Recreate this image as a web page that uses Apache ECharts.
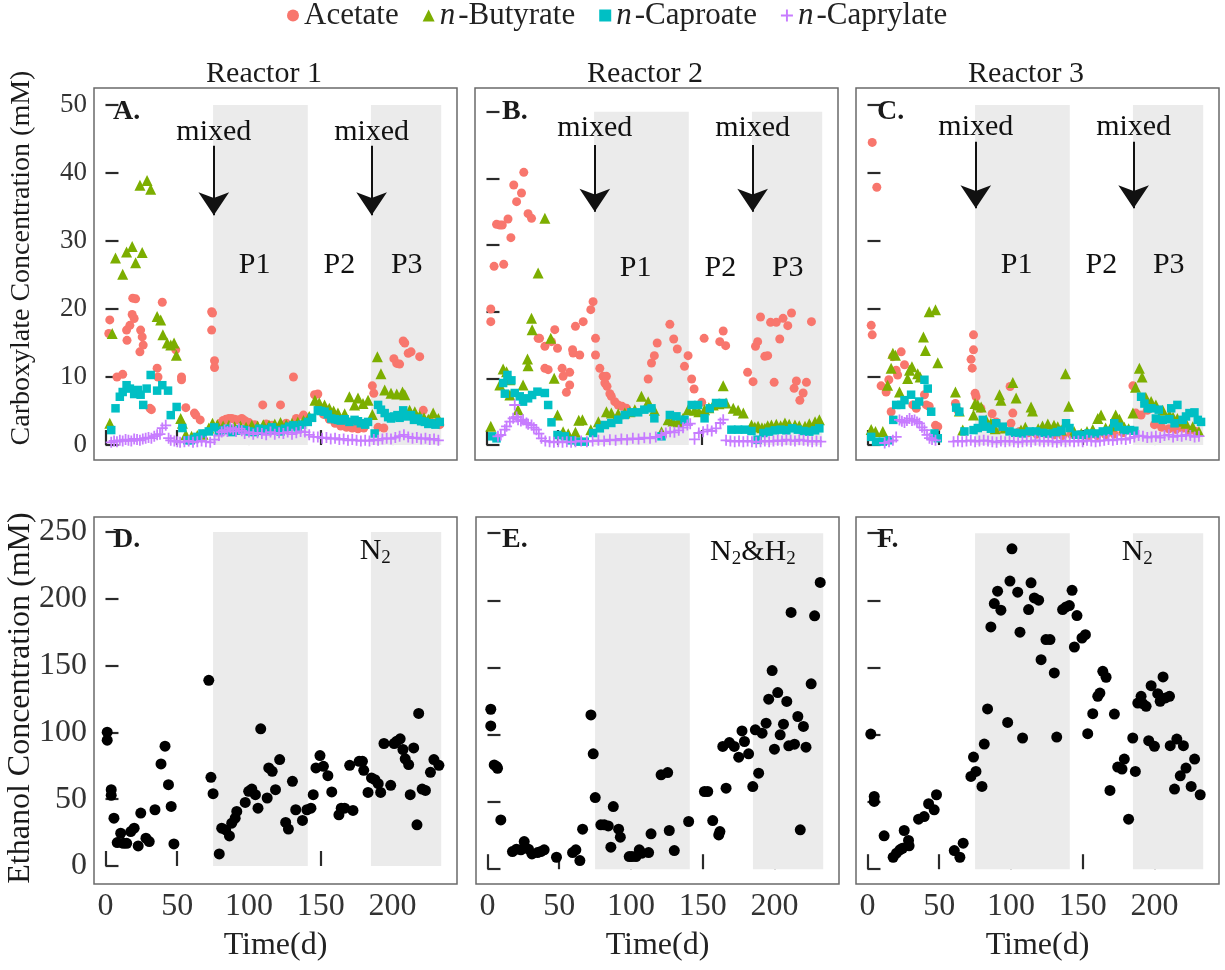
<!DOCTYPE html>
<html><head><meta charset="utf-8">
<script src="https://cdn.jsdelivr.net/npm/echarts@6/dist/echarts.min.js"></script>
<style>html,body{margin:0;padding:0;background:#fff}#c{width:1225px;height:970px}</style>
</head><body><div id="c"></div>
<script>
// ---------------- DATA ----------------
const seriesNames = ['Acetate', 'n-Butyrate', 'n-Caproate', 'n-Caprylate'];
const reactorTitles = ['Reactor 1', 'Reactor 2', 'Reactor 3'];
const topLetters = ['A.', 'B.', 'C.'];
const bottomLetters = ['D.', 'E.', 'F.'];
const gasLabels = ['N2', 'N2&H2', 'N2'];
const xTicks = [0, 50, 100, 150, 200];
const yTicksTop = [0, 10, 20, 30, 40, 50];
const yTicksBottom = [0, 50, 100, 150, 200, 250];
const phaseNames = ['P1', 'P2', 'P3'];
const phaseLabelDays = [104, 163, 210];
const shadeP1 = [75, 141];
const shadeP3 = [185, 234];
const mixedDays = [75.5, 185.5];
const mixedTextY = [46, 47.5, 46.8];
const arrowTopY = [44, 45, 44.6];
const arrowTipY = [33.8, 35, 34.8];

// Reactor 1 (A) [day, mM]
const r1Acetate = [[2.3,16.4],[3,18.4],[8,10],[12,10.4],[14.7,16.9],[15,15.4],[17,17.6],[18.6,19.2],[19,21.6],[20,18.6],[21,21.5],[24,13.7],[24.5,16.9],[25.6,15.9],[26.3,14.7],[31,5.4],[32,5.2],[36,11.3],[36.6,10],[39.6,21],[49,14],[53,10],[53,9.6],[56,5.5],[62,4.7],[63,4.4],[66,3.7],[74,19.6],[74.6,19.4],[74,16.9],[76,12.4],[76,11.4],[80,3.2],[82,3.6],[84,3.8],[86,3.9],[88,3.9],[90,3.8],[92,3.7],[95,3.9],[97,3.6],[100,3.3],[104,3.0],[109.6,5.9],[112,3.1],[116,2.9],[122,5.9],[126,3.2],[131,10],[133,3.9],[138,4.4],[145.7,7.4],[148,7.5],[152,4.5],[156,3.8],[160,3.2],[164,2.8],[168,2.6],[172,2.5],[176,2.4],[180,2.5],[186,8.7],[187,7.6],[190,2.6],[194,2.5],[201,12.7],[203,12],[205,11.9],[207.5,15.3],[208.6,15],[211,13.5],[213,13.7],[219,13],[221.5,5.1],[226,3.5],[230,3.2],[233,3]];
const r1Butyrate = [[3,3.2],[4.7,16.4],[7,27.5],[12,25.1],[14.7,28.4],[18.6,29.2],[21,26.8],[24,38.2],[25.6,28.3],[29,38.9],[31.5,37.6],[36,18.9],[38.5,18.4],[40,16.2],[43,15],[45.5,14.7],[47.8,15],[49.4,13.2],[52.4,3.9],[53.6,3.2],[56,1.5],[60,1.3],[64,1.4],[68,1.6],[72,2.5],[74.6,3.2],[78,3.0],[82,2.8],[86,2.9],[90,2.7],[94,2.8],[98,2.6],[102,2.9],[106,2.8],[110,3.0],[114,2.9],[118,3.1],[122,3.3],[126,3.0],[130,3.2],[134,3.4],[138,3.6],[142,4.2],[146,6.6],[149,6.2],[152.7,5.9],[156,5.4],[159,5.0],[162,4.7],[166.7,4.6],[170,7.1],[173.6,5.9],[176,6.9],[179.5,6.1],[183,6.6],[186,4.5],[189.5,13],[192,10.5],[194.6,8.1],[199,7.6],[203,7.5],[207,7.8],[208.6,7.4],[212,5.1],[215.6,4.9],[219,4.3],[222,4.0],[225,3.8],[228.4,4.7],[232,3.9]];
const r1Caproate = [[4,2.2],[7,5.4],[10,7.1],[12,7.8],[14.7,8.8],[17,8.3],[20,7.5],[22.6,8.1],[24.5,7.4],[26.3,5.9],[28.7,8.3],[31.5,10.3],[36,8],[39.6,8.8],[43.6,8],[45.5,4.4],[49.6,5.6],[53.6,2.5],[57,0.7],[59.4,0.7],[62,0.9],[64,1.2],[67.6,1.7],[72,2.0],[75.8,2.6],[79,2.0],[82,2.2],[85,2.4],[88,1.9],[91,2.1],[94,2.3],[97,2.2],[100,2.0],[104,1.9],[107,2.4],[110,2.1],[113,2.3],[116,2.6],[119,2.2],[122,2.0],[125,2.4],[128,2.7],[131,2.9],[134,2.6],[137,3.0],[141,3.4],[144,4.0],[148,5.1],[150,5.0],[152.7,4.9],[155,4.5],[157.4,3.9],[160,3.8],[162,3.7],[164,3.6],[166.7,3.8],[170,3.4],[173.6,3.7],[176,3.5],[178,3.2],[181,3.0],[183,3.4],[187.6,1.7],[190,5.9],[192,5.2],[194.6,4.7],[197,4.1],[199,3.9],[201,4.2],[203.5,4.4],[205,4.0],[207.5,5.1],[210,4.2],[213,4.4],[215,3.7],[218,3.9],[220,3.5],[222.6,3.4],[225,3.1],[227,3.2],[230,3.0],[233,3.4]];
const r1Caprylate = [[4,0.4],[6,0.6],[8,0.5],[10,0.7],[12,0.6],[14,0.8],[16,0.7],[18,0.6],[20,0.9],[22,0.8],[24,0.7],[26,0.9],[28,1.0],[30,1.1],[32,1.0],[34,1.3],[36,1.5],[38,1.6],[39.6,2.5],[42,2.9],[44,1.0],[45.5,0.7],[48,0.6],[50,0.5],[52,0.4],[55,0.5],[58,0.6],[61,0.4],[64,0.5],[67,0.6],[70,0.5],[73,0.4],[76,0.8],[79,1.4],[81,1.9],[83,2.2],[85,2.0],[87,2.5],[89,2.3],[91,2.0],[93,2.4],[95,2.1],[97,1.7],[100,1.9],[103,1.6],[106,1.8],[109,1.7],[112,1.5],[115,1.9],[118,1.6],[121,1.8],[124,1.7],[127,1.9],[130,1.6],[133,1.8],[136,2.0],[139,1.9],[142,1.5],[145,1.2],[148,1.2],[151,1.0],[154,1.1],[157,0.9],[160,1.0],[163,0.8],[166,0.9],[169,0.7],[172,0.8],[175,0.7],[178,0.6],[181,0.7],[184,0.6],[187,0.8],[190,0.7],[193,0.9],[196,1.0],[199,0.9],[202,1.1],[205,1.3],[208,1.5],[211,1.2],[214,1.0],[217,1.1],[220,0.9],[223,1.0],[226,0.8],[229,0.9],[232,0.7]];

// Reactor 2 (B)
const r2Acetate = [[3,20.4],[3,18.5],[5.3,26.8],[7,33.1],[9.3,33],[11,33],[12,27.1],[15,33.9],[17,31.1],[19,39],[21,36.5],[24.4,37.8],[26,40.9],[29,34.7],[31.4,34],[36,16],[37,16],[40.7,14.8],[40.7,11.5],[43,11.3],[45.3,15.5],[47.6,17.3],[49.5,14.5],[52.7,11.5],[53.4,10.3],[55.7,7.9],[58,9],[58,10.9],[60,14.3],[60.4,13.8],[62,17.8],[65,13.5],[67.4,18.5],[72.7,20.3],[74.3,21.5],[76,16],[76,13.5],[79,11.5],[81.3,10.3],[82.5,9.3],[83.6,10.3],[84,8.8],[86,7.7],[87,7.3],[89.4,6.5],[91.8,6],[94.5,5.8],[97.6,5.5],[112.7,9.9],[115,12.3],[117,13.4],[119,15.3],[127.8,18.1],[130.5,15.9],[133,14.4],[138,11.8],[140.5,13.4],[143,9.9],[144.7,8.4],[150,6.4],[151.7,16],[162.6,15.5],[165,17.1],[166.7,14.9],[182,10.9],[185.8,9.5],[187.5,14.8],[189,15.5],[191,19.2],[194,13.3],[196,13.4],[198,18.4],[200.5,9.4],[202,18.4],[204.4,15.9],[206.7,19],[210,17.9],[212.6,19.8],[214.4,8.5],[216,9.6],[218.4,6.7],[220.7,7.8],[223,9.4],[226.5,18.5]];
const r2Butyrate = [[3,2.8],[9.3,9],[11.6,11.4],[14,11],[16.3,9.8],[16.3,7.5],[22,5.3],[25.5,9],[28.6,12.9],[29,11.9],[31.4,19],[31.8,17.3],[36,25.8],[40.7,34],[44.8,16],[47.2,10],[49.5,4.5],[53.4,2],[57,1.7],[62,1.9],[64.3,3.7],[66.9,3.8],[72.7,2.3],[78,3.5],[83.6,5],[87,4.8],[91.8,4.7],[96.4,4.8],[100,5.0],[103.4,5.3],[108,7.3],[112.7,6.5],[117,5.2],[122,2],[126.6,3.8],[130,3.6],[133.6,3.5],[137,4.0],[140.5,5.3],[145,5.2],[148,5.0],[152,5.3],[155,5.6],[158,6],[162,6.2],[165,8.9],[167,6.3],[172,5.5],[175.4,5.2],[179,4.8],[184.7,3],[187,2.7],[189.3,2.8],[192,2.6],[194,2.5],[196,2.9],[198.6,3],[202,3.1],[205,2.9],[208,3.3],[211,3.1],[215,3],[218,2.9],[222,2.8],[225,3.2],[229,3.5],[232,3.8]];
const r2Caproate = [[4,1.3],[7,1],[11.6,9.3],[12.8,7.7],[14.6,10.5],[17.4,9.7],[19.7,7.8],[23.2,7.3],[25.5,6.5],[29,7],[31.8,7.5],[35.5,8],[40.7,7.8],[43,6],[45.3,3.4],[49.5,1.5],[54.6,1.3],[59.2,0.7],[64,0.5],[68.5,0.5],[74.3,1.8],[79,2.5],[82.5,3],[87,3.3],[91.8,3.8],[96.4,4.5],[101,4.9],[105.7,4.9],[110,5.3],[115,5.5],[117,4],[122,1.3],[127.8,4.5],[132.4,4.3],[138,3.8],[143,6],[147.5,6],[152,4],[155.6,5.5],[160,6.3],[165,6.3],[170.7,2.3],[175.4,2.3],[180,2.3],[184.7,2.1],[189,0.8],[193,1.8],[197,2.0],[201,2.2],[205,2.3],[209,2.2],[213,2.5],[217,2.3],[221,2.1],[225,2.0],[229,2.2],[232,2.5]];
const r2Caprylate = [[8,1.3],[10,1.5],[12.8,2.3],[14,2.8],[16.3,3.5],[18.6,4],[19.7,6],[21,4.2],[22,3.8],[24,3.6],[25.5,3.8],[27.9,3.3],[29,3.1],[31.4,3],[33,2.6],[34.8,2.3],[36.5,1.7],[38.3,1],[41,0.6],[44,0.5],[47,0.4],[50,0.5],[53,0.4],[56,0.5],[59,0.4],[62,0.5],[66,0.6],[70,0.5],[74,0.6],[78,0.7],[82,0.6],[86,0.8],[90,0.7],[94,0.9],[98,0.8],[102,1.0],[106,0.9],[110,1.1],[114,1.0],[118,1.2],[122,1.5],[125,1.8],[128,2.0],[131,1.9],[134,2.2],[137,2.6],[140,3.0],[142,3.2],[145,0.85],[148,1.8],[151,2.0],[154,2.3],[157,2.1],[160,2.5],[163,3.3],[165,3.8],[167,0.7],[170,0.6],[173,0.5],[176,0.6],[179,0.5],[182,0.6],[185,0.5],[188,0.4],[191,0.5],[194,0.6],[197,0.5],[200,0.6],[203,0.7],[206,0.6],[209,0.8],[212,0.7],[215,0.6],[218,0.8],[221,0.7],[224,0.6],[227,0.5],[230,0.6],[233,0.5]];

// Reactor 3 (C)
const r3Acetate = [[2.6,17.6],[3.3,16.2],[3.3,44.5],[6.5,37.9],[9.5,8.7],[13,7.8],[14.9,9.6],[16.5,4.9],[17.7,13],[20,11],[21,10.3],[23.5,13.7],[25.8,11.8],[31.6,5.9],[34,5.4],[39.7,7.4],[41,5.9],[43,5.7],[47.4,2.9],[49,2.7],[61.3,6.1],[63,5.1],[72.2,12.6],[73,11.3],[73.9,14],[73.9,16.2],[75,7.6],[75.7,7.1],[79,5.4],[83,3.0],[86.9,4.6],[89.7,3.4],[94,2.4],[99.4,8.6],[100,3.2],[101.3,4.7],[106,2.0],[112,1.8],[118,1.6],[124,1.7],[130,1.5],[136,1.4],[142,1.6],[148,1.5],[154,1.3],[160,1.4],[166,1.5],[172,1.6],[178,1.8],[185,8.7],[187,4.7],[190.7,4.4],[195,5.1],[200,3.0],[205,2.6],[210,2.4],[215,2.3],[220,2.5],[224,2.2],[229,2]];
const r3Butyrate = [[2.6,2.3],[5.6,2],[10.7,2],[14,8.8],[16.5,11.3],[17.7,13.5],[19.5,13.2],[22.3,7.8],[28,9.8],[29.3,11],[31,11.5],[35,10.5],[36.7,10],[39,15.9],[40.4,13.9],[43,19.6],[47.4,19.9],[49,12.1],[61.3,7.8],[64,5],[66.4,2.2],[73.9,4.4],[75,6.1],[76.9,5.9],[79.2,5.6],[82.7,3.7],[86,3.2],[89,2.4],[92,7.4],[93,6.6],[96,2.5],[101.3,9.2],[103.6,6.9],[107,2.2],[110,2.6],[114,5.6],[115,5],[119,2.4],[122,2.8],[125.7,3.1],[130,2.9],[132.6,2.7],[135,2.2],[138,10.5],[140.3,5.7],[144,2.0],[149,1.7],[153,2.0],[157,2.3],[160.5,3.9],[162.8,4.4],[166,2.5],[170,2.8],[173,4.4],[175.6,3.8],[179,2.6],[182,2.4],[185,4.7],[186.8,8.5],[189.5,11.3],[191.4,10],[194,7.0],[197.7,6.4],[201,5.9],[205.8,5.1],[210.5,4.4],[213,4.1],[216,3.9],[219,3.5],[222,3.2],[226.7,2.7],[231,2]];
const r3Caproate = [[2.6,1.2],[6,0.5],[10.7,0.5],[15,0.7],[18,3.7],[20,5.9],[23.5,5.9],[25.8,6.6],[30.4,7.4],[34,5.9],[36,6.4],[39.7,9.6],[42,8.3],[44.4,4.9],[46.7,1.7],[49,1],[61.8,5.5],[64,4.9],[67.6,2],[73.9,2.2],[76.9,2.5],[80.4,3.7],[82.7,2.7],[86,2.4],[89.7,3.2],[94.3,2.7],[99,2],[103,1.8],[108,1.7],[113,2],[117.5,2],[122,1.8],[126.8,1.7],[132,1.9],[135,2.1],[138.4,3.2],[140.8,2.5],[145.4,1.5],[149,1.5],[154,1.7],[159,1.7],[164,2],[168,2.1],[172,3.2],[175,2.7],[179,2.2],[183,2.2],[186,2.1],[190.7,7.1],[193,6.1],[195.4,5.4],[198,5.4],[201,3.9],[203,5.2],[205.8,3.7],[210.4,3.8],[211.7,5.4],[214,3.2],[216,5.9],[219.7,3.7],[222,4.2],[224.4,4.7],[227.9,4.8],[230.2,3.7],[232.5,3.4]];
const r3Caprylate = [[12,0.3],[15,0.5],[17.7,0.7],[20,1.2],[22.3,3.7],[24,3.5],[25.8,3.3],[27.5,3.6],[29.3,3.9],[31,3.6],[32.8,3.7],[34.5,3.4],[36.2,3.2],[38,2.6],[39.7,2.2],[41.5,1.5],[43.2,1],[45,0.8],[47.4,0.7],[60,0.5],[63,0.6],[66,0.5],[69,0.6],[72,0.7],[75,0.5],[78,0.6],[81,0.7],[84,0.6],[87,0.5],[90,0.4],[93,0.6],[96,0.5],[99,0.6],[102,0.5],[105,0.4],[108,0.5],[111,0.6],[114,0.5],[117,0.7],[120,0.6],[123,0.5],[126,0.6],[129,0.5],[132,0.4],[135,0.6],[138,0.5],[141,0.6],[144,0.5],[147,0.6],[150,0.5],[153,0.7],[156,0.6],[159,0.5],[162,0.6],[165,0.7],[168,0.8],[171,0.7],[174,0.8],[177,0.9],[180,0.8],[183,1.0],[186,1.2],[189,1.4],[192,1.3],[195,1.1],[198,1.2],[201,1.3],[204,1.1],[207,1.4],[210,1.5],[213,1.2],[216,1.4],[219,1.3],[222,1.5],[225,1.4],[228,1.2],[231,1.3]];

// Ethanol (D, E, F) [day, mM]
const r1Ethanol = [[1.2,100.2],[1.2,94.2],[4,57.1],[4,52.9],[5.9,35.8],[8.2,17.5],[10.6,24.5],[12.4,17],[14.8,17],[17.6,25.8],[20,28.3],[22.8,15],[24.6,39.6],[28.2,20.8],[30.5,18.3],[34.5,42.1],[38.7,76.4],[41.5,89.7],[43.9,60.9],[45.8,44.6],[47.7,16.5],[72,139],[73.5,66.4],[75,54.1],[79.3,9],[81,28.3],[83.8,27],[86.4,22.5],[88,32],[90.4,35.8],[91.5,40.8],[97.4,47.6],[99.8,55.9],[102,57.6],[104.5,53.4],[106.3,43.3],[108.2,102.7],[112.7,50.9],[113.8,73.4],[116.2,70.9],[118.5,57.1],[121.4,79.7],[125.6,32.6],[127.5,27.6],[130.3,63.4],[132.6,42.1],[137.3,34.1],[140.4,42.1],[143.2,43.3],[144.8,53.4],[146.7,73.4],[149.5,82.7],[151.9,74.6],[155,67.6],[157.7,55.4],[162.7,38.3],[164.3,43.3],[166.7,43.3],[170.2,75.4],[172.5,41.6],[176.8,78.4],[179.1,78.4],[180,71.6],[183,55.1],[185.4,65.9],[187.8,64.6],[190.1,61.6],[191.8,55.1],[194.1,91.7],[198.8,60.4],[201.2,91.7],[203,93.4],[205.4,95.2],[207.3,87.2],[208.9,80.2],[211.3,75.9],[212.4,53.4],[214.8,88.4],[217.1,30.8],[218.3,114.2],[220.7,57.6],[223,56.6],[226.5,70.1],[228.9,79.7],[232.4,75.4]];
const r2Ethanol = [[2.3,119],[2.3,106.6],[4.7,77.6],[6.3,76.4],[7,75.1],[9.3,36.7],[17.4,13.1],[20.2,14.9],[23.3,14.4],[25.6,20.6],[28.6,14.9],[31,11.4],[34.9,12.4],[37.2,13.1],[39.5,14.4],[48.1,8.9],[59.3,12.4],[61.6,14.4],[64.4,6.4],[66.3,29.8],[72.1,114.8],[73.7,85.8],[75.1,53.3],[79,33],[81.4,33],[84.2,32.2],[86,16.4],[87.7,46.6],[91.4,29.8],[92.6,23.8],[98.8,9.4],[100.7,9.4],[103.5,9.4],[105.8,14.4],[107.7,11.9],[112.3,12.4],[114,26.3],[121,70.2],[125.6,71.9],[126.7,28.8],[130.2,13.9],[140.2,35.5],[151.2,57.8],[153.5,57.8],[157,36.2],[161.2,25.5],[162,28],[164,91.3],[166.3,60.3],[168.6,94.2],[172,91.3],[175.1,83.3],[177.4,102.9],[179.1,95],[182,85.8],[184.9,61.5],[186.7,103.7],[189,71.4],[191.4,101.2],[194.2,108.6],[196,126.5],[198.4,147.8],[200,89.3],[202.3,131.4],[204,100],[206.3,107.9],[208.6,124.8],[210,91.8],[211.6,191],[214,93],[216.3,113.6],[218,29.3],[220.2,106.2],[222,90.8],[225.6,137.9],[228,188.5],[231.9,213.3]];
const r3Ethanol = [[2.3,100.5],[4.7,54.1],[4.7,50.4],[11.6,24.8],[17.9,8.9],[20.2,11.9],[22.6,14.4],[24.4,15.6],[25.6,28.8],[28.6,21.4],[29,17.4],[35.6,37.2],[39.5,39.2],[42.6,48.7],[46.5,44.2],[48.1,55.4],[60.5,13.9],[64.4,8.9],[66.7,19.4],[72.1,69],[73.9,83.4],[75.6,72.7],[79.8,61.6],[81.4,93.1],[83.7,119.2],[86,180.2],[88.4,197.6],[90.7,206.8],[93,192.7],[97.7,109.2],[99.3,214.3],[100.7,238.3],[104.7,206.1],[106.3,176.3],[108.1,97.6],[112.3,193.1],[114,213],[116.3,201.8],[119.3,200.1],[121,155.9],[124.4,170.8],[127.2,170.8],[130.2,146],[131.9,98.3],[136,193.1],[138.4,195.1],[140.7,196.1],[142.6,207.5],[144.2,165.3],[146,188.7],[149.5,172],[151.9,174.5],[153.5,100.8],[157,115.7],[160.5,128.6],[162,131],[164,147.2],[166.3,142.8],[169,58.6],[172.1,115.4],[174.4,76],[177.4,74.5],[179,81.9],[182,37.2],[184.9,97.6],[186.7,72.7],[188.4,123.6],[190.7,128.6],[191.9,123.1],[194.2,121.2],[196,95.6],[197.7,136.5],[200,91.4],[202.3,130.6],[204,124.9],[206,143],[207.7,127.4],[210.5,128.6],[211,91.9],[214,59.6],[215.6,96.8],[218,69.5],[220.2,91.9],[222,75.2],[225.6,61.6],[228,81.9],[231.9,55.4]];

const topData = [
  [r1Acetate, r1Butyrate, r1Caproate, r1Caprylate],
  [r2Acetate, r2Butyrate, r2Caproate, r2Caprylate],
  [r3Acetate, r3Butyrate, r3Caproate, r3Caprylate]
];
const bottomData = [r1Ethanol, r2Ethanol, r3Ethanol];

// ---------------- STYLE / LAYOUT ----------------
const FONT = "'Liberation Serif','Times New Roman',serif";
const colors = ['#F8766D', '#7CAE00', '#00BFC4', '#C77CFF'];
const PLUS = 'path://M42,0H58V42H100V58H58V100H42V58H0V42H42Z';
const symbols = ['circle', 'triangle', 'rect', PLUS];
const symbolSizes = [9, 11, 8.5, 11];
const topLefts = [94, 475, 856];
const bottomLefts = [94, 476, 856];
const topYRange = [[-2.2, 52.5], [-2.25, 53.55], [-2.2, 52.5]];
const bottomYRange = [[-13.5, 261.3], [-11, 262], [-11, 262]];
const XMIN = -8, XMAX = 245;

const chart = echarts.init(document.getElementById('c'));
const grids = [], xAxes = [], yAxes = [], series = [];

function axisCommon(showLabel, ticks, fs, len) {
  return {
    axisLine: { show: false },
    splitLine: { show: false },
    axisTick: { show: true, inside: true, length: len, customValues: ticks, lineStyle: { color: '#2a2a2a', width: 2.2 } },
    axisLabel: { show: showLabel, customValues: ticks, color: '#333', fontFamily: FONT, fontSize: fs, margin: 7 }
  };
}

for (let p = 0; p < 6; p++) {
  const isTop = p < 3, c = p % 3;
  grids.push({
    left: isTop ? topLefts[c] : bottomLefts[c],
    top: isTop ? 88 : 517,
    width: 363, height: isTop ? 372 : 367,
    show: true, borderColor: '#6a6a6a', borderWidth: 1.5, backgroundColor: '#fff'
  });
  const xa = Object.assign({ type: 'value', gridIndex: p, min: XMIN, max: XMAX }, axisCommon(!isTop, xTicks, 32, 15));
  if (!isTop) { xa.name = 'Time(d)'; xa.nameLocation = 'middle'; xa.nameGap = 46; xa.nameTextStyle = { fontFamily: FONT, fontSize: 32, color: '#222' }; }
  xAxes.push(xa);
  const yr = isTop ? topYRange[c] : bottomYRange[c];
  yAxes.push(Object.assign({ type: 'value', gridIndex: p, min: yr[0], max: yr[1] },
    axisCommon(c === 0, isTop ? yTicksTop : yTicksBottom, isTop ? 27 : 32, 13)));
}

// annotation series for top panels
for (let c = 0; c < 3; c++) {
  const ymax = 50;
  series.push({
    type: 'scatter', xAxisIndex: c, yAxisIndex: c, data: [], z: 1, silent: true,
    markArea: { silent: true, itemStyle: { color: '#EBEBEB' },
      data: [[{ coord: [shadeP1[0], 0] }, { coord: [shadeP1[1], ymax] }], [{ coord: [shadeP3[0], 0] }, { coord: [shadeP3[1], ymax] }]] }
  });
  const txt = (name, x, y) => ({ name: name, coord: [x, y] });
  series.push({
    type: 'scatter', xAxisIndex: c, yAxisIndex: c, data: [], z: 6, silent: true,
    markLine: { silent: true, symbol: ['none', 'arrow'], symbolSize: 23, animation: false,
      lineStyle: { color: '#111', width: 2, type: 'solid' }, label: { show: false },
      data: mixedDays.map(d => [{ coord: [d, arrowTopY[c]] }, { coord: [d, arrowTipY[c]] }]) },
    markPoint: { silent: true, symbol: 'circle', symbolSize: 1, itemStyle: { color: 'transparent' },
      label: { show: true, position: 'inside', formatter: q => q.name, color: '#111', fontFamily: FONT, fontSize: 30 },
      data: [txt('mixed', mixedDays[0], mixedTextY[c]), txt('mixed', mixedDays[1], mixedTextY[c])]
        .concat(phaseNames.map((n, i) => txt(n, phaseLabelDays[i], 26.5))) }
  });
  for (let s = 0; s < 4; s++) {
    series.push({
      name: seriesNames[s], type: 'scatter', xAxisIndex: c, yAxisIndex: c, z: 2 + s * 0.1,
      symbol: symbols[s], symbolSize: symbolSizes[s], itemStyle: { color: colors[s], opacity: 1 },
      data: topData[c][s]
    });
  }
}
// bottom panels
for (let c = 0; c < 3; c++) {
  const p = c + 3;
  const gas = gasLabels[c] === 'N2' ? '{n|N}{s|2}' : '{n|N}{s|2}{n|&H}{s|2}';
  series.push({
    type: 'scatter', xAxisIndex: p, yAxisIndex: p, data: [], z: 1, silent: true,
    markArea: { silent: true, itemStyle: { color: '#EBEBEB' },
      data: [[{ coord: [shadeP1[0], 0] }, { coord: [shadeP1[1], 250] }], [{ coord: [shadeP3[0], 0] }, { coord: [shadeP3[1], 250] }]] },
    markPoint: { silent: true, symbol: 'circle', symbolSize: 1, itemStyle: { color: 'transparent' },
      label: { show: true, position: 'inside', formatter: gas,
        rich: { n: { fontFamily: FONT, fontSize: 30, color: '#111' }, s: { fontFamily: FONT, fontSize: 19, color: '#111', padding: [14, 0, 0, 0] } } },
      data: [{ name: gasLabels[c], coord: [c === 1 ? 185 : 188, 236] }] }
  });
  series.push({
    name: 'Ethanol', type: 'scatter', xAxisIndex: p, yAxisIndex: p, z: 3,
    symbol: 'circle', symbolSize: 11, itemStyle: { color: '#000', opacity: 1 }, data: bottomData[c]
  });
}

const graphics = [];
const gtext = (text, x, y, size, opts) => Object.assign({ type: 'text', x: x, y: y, silent: true,
  style: { text: text, font: (opts && opts.bold ? 'bold ' : '') + size + 'px ' + FONT, fill: '#1a1a1a',
    textAlign: (opts && opts.align) || 'center', textVerticalAlign: 'middle' } }, opts && opts.rot ? { rotation: opts.rot } : {});
reactorTitles.forEach((t, i) => graphics.push(gtext(t, [264, 645, 1026][i], 74, 30)));
topLetters.forEach((t, i) => graphics.push(gtext(t, [113, 502, 877][i], 112, 28, { bold: true, align: 'left' })));
bottomLetters.forEach((t, i) => graphics.push(gtext(t, [113, 502, 877][i], 540, 28, { bold: true, align: 'left' })));
graphics.push(gtext('Carboxylate Concentration (mM)', 22, 258, 28, { rot: Math.PI / 2 }));
graphics.push(gtext('Ethanol Concentration (mM)', 21, 698, 32, { rot: Math.PI / 2 }));

chart.setOption({
  animation: false,
  backgroundColor: '#fff',
  legend: {
    data: seriesNames, left: 287, top: 0, padding: 0, itemGap: 24, itemWidth: 12, itemHeight: 12,
    formatter: n => n.indexOf('n-') === 0 ? '{i|n}' + n.slice(1) : n,
    textStyle: { fontFamily: FONT, fontSize: 31, color: '#222',
      rich: { i: { fontFamily: FONT, fontSize: 31, fontStyle: 'italic', color: '#222', padding: [0, 3, 0, 0] } } }
  },
  grid: grids, xAxis: xAxes, yAxis: yAxes, series: series, graphic: graphics
});
</script></body></html>
